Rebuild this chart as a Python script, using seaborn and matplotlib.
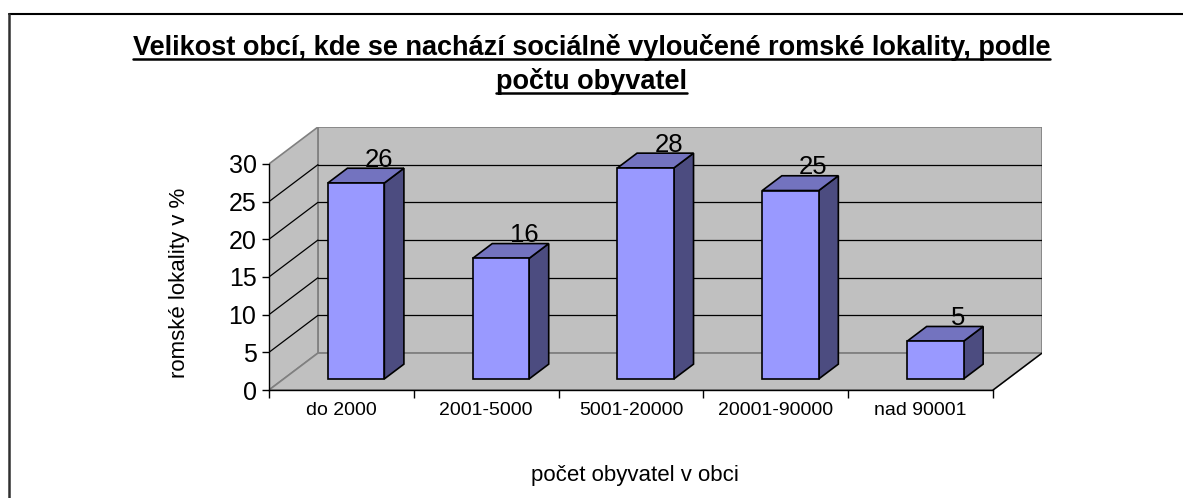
import numpy as np
import pandas as pd
import matplotlib.pyplot as plt
import seaborn as sns
from matplotlib.patches import Polygon
from matplotlib.lines import Line2D

categories = ["do 2000", "2001-5000", "5001-20000", "20001-90000", "nad 90001"]
values = [26, 16, 28, 25, 5]
y_ticks = [0, 5, 10, 15, 20, 25, 30]

title_lines = [
    "Velikost obcí, kde se nachází sociálně vyloučené romské lokality, podle",
    "počtu obyvatel",
]
x_label = "počet obyvatel v obci"
y_label = "romské lokality v %"

# fake 3d: offset of the back wall (category units, value units)
DEPTH_X = 0.338
DEPTH_Y = 4.9
BAR_W = 0.39
BAR_D0, BAR_D1 = 0.30, 0.70

FRONT = "#9999FF"
TOP = "#7373BF"
SIDE = "#4C4C80"
WALL = "#C0C0C0"
EDGE = "#808080"

W, H = 1183, 498


def shift(x, y, d):
    return (x + d * DEPTH_X, y + d * DEPTH_Y)


sns.set_style("white")
plt.rcParams["font.family"] = ["Liberation Sans", "DejaVu Sans"]
plt.rcParams["text.color"] = "black"
plt.rcParams["xtick.color"] = "black"
plt.rcParams["ytick.color"] = "black"
plt.rcParams["axes.labelcolor"] = "black"

fig = plt.figure(figsize=(W / 100, H / 100), dpi=100)
ax = fig.add_axes([269 / W, 108 / H, 773 / W, 263 / H])

n = len(categories)
ymax = y_ticks[-1]

# walls and floor
back = [shift(0, 0, 1), shift(n, 0, 1), shift(n, ymax, 1), shift(0, ymax, 1)]
side = [(0, 0), shift(0, 0, 1), shift(0, ymax, 1), (0, ymax)]
floor = [(0, 0), (n, 0), shift(n, 0, 1), shift(0, 0, 1)]
for poly in (back, side, floor):
    ax.add_patch(Polygon(poly, closed=True, facecolor=WALL, edgecolor=EDGE, lw=1.2, zorder=0.5))

for y in y_ticks[1:-1]:
    p0 = shift(0, y, 1)
    p1 = shift(n, y, 1)
    ax.plot([p0[0], p1[0]], [p0[1], p1[1]], color="black", lw=0.9, zorder=0.6)
    ax.plot([0, p0[0]], [y, p0[1]], color="black", lw=0.9, zorder=0.6)

pr = shift(n, 0, 1)
ax.plot([n, pr[0]], [0, pr[1]], color="black", lw=1.0, zorder=0.7)

# front faces of the bars
df = pd.DataFrame({"pos": np.arange(n) + 0.5 + BAR_D0 * DEPTH_X, "value": values})
sns.barplot(
    data=df, x="pos", y="value", native_scale=True, width=BAR_W,
    color=FRONT, saturation=1, edgecolor="black", linewidth=1.2,
    bottom=BAR_D0 * DEPTH_Y, errorbar=None, ax=ax, zorder=3,
)

# tops and sides
for i, v in enumerate(values):
    x0 = i + 0.5 - BAR_W / 2
    x1 = i + 0.5 + BAR_W / 2
    side_poly = [shift(x1, 0, BAR_D0), shift(x1, 0, BAR_D1), shift(x1, v, BAR_D1), shift(x1, v, BAR_D0)]
    top_poly = [shift(x0, v, BAR_D0), shift(x1, v, BAR_D0), shift(x1, v, BAR_D1), shift(x0, v, BAR_D1)]
    ax.add_patch(Polygon(side_poly, closed=True, facecolor=SIDE, edgecolor="black", lw=1.2, zorder=2.9))
    ax.add_patch(Polygon(top_poly, closed=True, facecolor=TOP, edgecolor="black", lw=1.2, zorder=2.9))

    cx, cy = shift(i + 0.5, v, (BAR_D0 + BAR_D1) / 2)
    ax.annotate(str(v), (cx, cy), xytext=(9.5, 11.5), textcoords="offset points",
                ha="center", va="center", fontsize=18.5, color="black", zorder=5)

ax.set_xlim(0, n + DEPTH_X)
ax.set_ylim(0, ymax + DEPTH_Y)
ax.patch.set_visible(False)
for s in ["top", "right"]:
    ax.spines[s].set_visible(False)
for s in ["left", "bottom"]:
    ax.spines[s].set_color("black")
    ax.spines[s].set_linewidth(1.0)
ax.spines["left"].set_bounds(0, ymax)
ax.spines["bottom"].set_bounds(0, n)

ax.set_yticks(y_ticks)
ax.set_xticks(range(n + 1))
ax.set_xticklabels([])
ax.set_xticks(np.arange(n) + 0.5, minor=True)
ax.set_xticklabels(categories, minor=True, fontsize=14)
ax.tick_params(axis="x", which="major", bottom=True, direction="out", length=6, width=1, color="black")
ax.tick_params(axis="x", which="minor", bottom=True, length=0, pad=8.5, labelcolor="black")
ax.tick_params(axis="y", left=True, direction="out", length=5, width=1, color="black",
               labelsize=18, pad=4, labelcolor="black")
ax.set_xlabel("")
ax.set_ylabel("")

fig.text(635 / W, 1 - 475 / H, x_label, ha="center", va="center", fontsize=16, color="black")
fig.text(180 / W, 1 - 283 / H, y_label, ha="center", va="center", rotation=90, fontsize=16, color="black")

# title, underlined
title_texts = []
for k, line in enumerate(title_lines):
    base = 55 + 34 * k
    title_texts.append(fig.text(0.5, 1 - base / H, line, ha="center", va="baseline",
                                fontsize=19.5, fontweight="bold", color="black"))
fig.canvas.draw()
for k, t in enumerate(title_texts):
    bb = t.get_window_extent()
    yl = 1 - (55 + 34 * k + 4) / H
    fig.add_artist(Line2D([bb.x0 / W, bb.x1 / W], [yl, yl], transform=fig.transFigure,
                          color="black", lw=1.8))

# chart frame
fig.add_artist(Line2D([9 / W, 1], [1 - 14 / H, 1 - 14 / H], transform=fig.transFigure, color="black", lw=1.5))
fig.add_artist(Line2D([9 / W, 9 / W], [0, 1 - 14 / H], transform=fig.transFigure, color="#303030", lw=1.8))

fig.savefig("out.png", dpi=100)
